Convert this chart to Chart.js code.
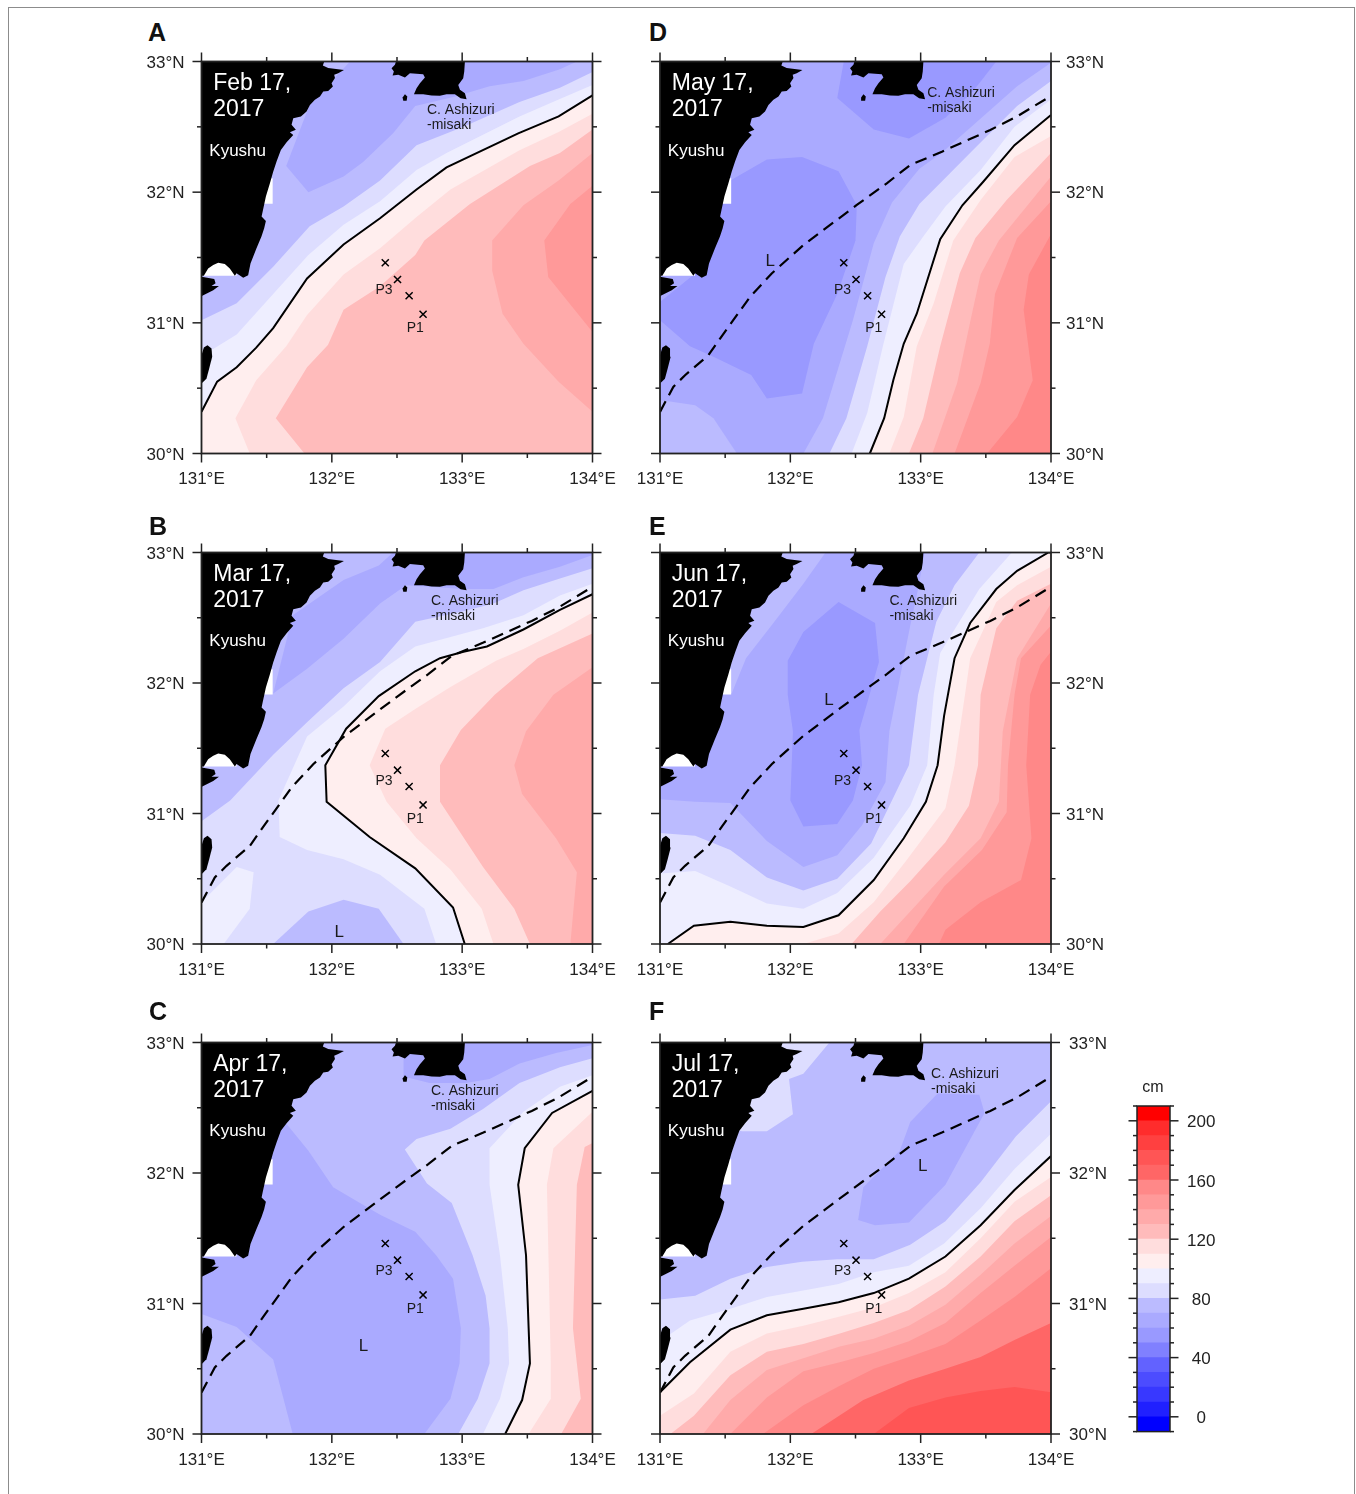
<!DOCTYPE html>
<html>
<head>
<meta charset="utf-8">
<title>Sea level maps 2017</title>
<script src="https://cdn.jsdelivr.net/npm/chart.js@4"></script>
<style>
html, body { margin: 0; padding: 0; background: #fff; }
body { position: relative; width: 1356px; height: 1494px; overflow: hidden; font-family: "Liberation Sans", Arial, sans-serif; }
canvas { position: absolute; }
#border { position: absolute; left: 8px; top: 7px; width: 1345px; height: 1520px; border: 1px solid #8c8c8c; }
.letter { position: absolute; font: bold 25px/24px "Liberation Sans", Arial, sans-serif; color: #111; }
</style>
</head>
<body>
<div id="border"></div>
<script>
// tick values, degrees
var lonTicks = [131, 132, 133, 134]
var lonMinor = [131.5, 132.5, 133.5]
var latTicks = [30, 31, 32, 33]
var latMinor = [30.5, 31.5, 32.5]

// colour bar, cm
var barLevels = [-10, 0, 10, 20, 30, 40, 50, 60, 70, 80, 90, 100, 110, 120, 130, 140, 150, 160, 170, 180, 190, 200]
var barLabels = [0, 40, 80, 120, 160, 200]

// stations lon/lat
var stations = [[132.41, 31.46], [132.504, 31.332], [132.593, 31.207], [132.70, 31.066]]

// mean Kuroshio path
var meanPath = [[131, 30.318], [131.102, 30.51], [131.192, 30.599], [131.371, 30.752], [131.461, 30.88], [131.691, 31.199], [131.857, 31.378], [132.1, 31.595], [132.51, 31.902], [132.74, 32.068], [132.92, 32.208], [133.163, 32.31], [133.534, 32.476], [133.739, 32.579], [134, 32.737]]

// land
var kyushu = [[131.942, 33], [131.931, 32.97], [131.972, 32.95], [132.093, 32.934], [132.049, 32.911], [132.018, 32.898], [132.024, 32.873], [131.998, 32.834], [132.008, 32.809], [131.972, 32.775], [131.934, 32.77], [131.909, 32.732], [131.87, 32.707], [131.832, 32.668], [131.806, 32.617], [131.763, 32.579], [131.704, 32.566], [131.691, 32.515], [131.724, 32.477], [131.678, 32.459], [131.704, 32.438], [131.653, 32.382], [131.609, 32.323], [131.576, 32.234], [131.55, 32.157], [131.525, 32.068], [131.494, 31.966], [131.469, 31.851], [131.461, 31.813], [131.494, 31.779], [131.481, 31.723], [131.46, 31.66], [131.422, 31.57], [131.376, 31.455], [131.358, 31.365], [131.32, 31.345], [131.269, 31.38], [131.256, 31.36], [131.217, 31.416], [131.179, 31.45], [131.128, 31.46], [131.09, 31.442], [131.051, 31.416], [131.018, 31.36], [131, 31.36], [131, 31.353], [131.098, 31.335], [131.108, 31.302], [131.077, 31.281], [131.134, 31.281], [131.09, 31.25], [131.006, 31.207], [131, 31.2], [131, 33]]
var osumi = [[131, 30.535], [131.038, 30.573], [131.059, 30.65], [131.082, 30.74], [131.077, 30.803], [131.046, 30.829], [131.018, 30.811], [131, 30.752]]
var shikoku = [[133.021, 33], [133.016, 32.923], [133.008, 32.872], [132.97, 32.821], [132.983, 32.783], [133.021, 32.757], [133.034, 32.711], [132.988, 32.719], [132.944, 32.75], [132.88, 32.75], [132.829, 32.737], [132.765, 32.74], [132.701, 32.75], [132.63, 32.75], [132.65, 32.795], [132.676, 32.834], [132.714, 32.878], [132.701, 32.903], [132.599, 32.911], [132.561, 32.878], [132.51, 32.898], [132.466, 32.893], [132.476, 32.923], [132.458, 32.949], [132.484, 32.975], [132.492, 33]]
var islet = [[132.561, 32.75], [132.579, 32.732], [132.574, 32.699], [132.548, 32.699], [132.543, 32.724]]
var noData = [
  [[131.46, 32.106], [131.546, 32.106], [131.546, 31.912], [131.46, 31.912]],
  [[131, 31.52], [131.269, 31.52], [131.269, 31.36], [131, 31.36]]
]

// bands: [level, contour], closed round the south east corner
var febBands = [
  [80, [[131, 31.02], [131.27, 31.15], [131.55, 31.43], [131.83, 31.74], [132.09, 31.89], [132.37, 32.09], [132.65, 32.36], [133.01, 32.5], [133.44, 32.69], [133.75, 32.8], [134, 32.92]]],
  [90, [[131, 30.79], [131.09, 30.8], [131.27, 30.91], [131.55, 31.22], [131.82, 31.52], [132.09, 31.75], [132.37, 31.93], [132.65, 32.17], [132.88, 32.3], [133.44, 32.58], [133.74, 32.71], [134, 32.82]]],
  [100, [[131, 30.32], [131.12, 30.55], [131.27, 30.66], [131.42, 30.81], [131.55, 30.96], [131.81, 31.34], [132.09, 31.6], [132.37, 31.8], [132.65, 32.02], [132.88, 32.19], [133.43, 32.45], [133.74, 32.58], [134, 32.74]]],
  [110, [[131.37, 30], [131.26, 30.27], [131.42, 30.56], [131.65, 30.82], [131.81, 31.06], [132.09, 31.37], [132.37, 31.57], [132.65, 31.81], [132.91, 32.02], [133.44, 32.32], [133.74, 32.46], [134, 32.6]]],
  [120, [[131.79, 30], [131.57, 30.27], [131.81, 30.66], [131.97, 30.83], [132.09, 31.1], [132.37, 31.28], [132.64, 31.52], [132.71, 31.63], [133.06, 31.91], [133.52, 32.2], [133.75, 32.3], [134, 32.48]]],
  [130, [[134, 30.32], [133.74, 30.55], [133.47, 30.84], [133.31, 31.07], [133.23, 31.4], [133.23, 31.63], [133.47, 31.9], [133.74, 32.09], [134, 32.3]]],
  [140, [[134, 30.93], [133.66, 31.35], [133.63, 31.63], [133.83, 31.91], [134, 32.05]]]
]
var febPatches = [
  [60, [[132.14, 33], [131.83, 32.67], [131.65, 32.2], [131.82, 32], [132.09, 32.12], [132.24, 32.23], [132.47, 32.45], [132.64, 32.66], [132.94, 32.73], [133.21, 32.81], [133.47, 32.85], [133.75, 32.94], [133.88, 33]]]
]

var marBands = [
  [80, [[131, 30.94], [131.22, 31.1], [131.55, 31.45], [131.81, 31.7], [132.09, 31.96], [132.37, 32.16], [132.64, 32.47], [133.01, 32.55], [133.24, 32.61], [133.47, 32.71], [133.75, 32.8], [134, 32.88]]],
  [90, [[132.8, 30], [132.71, 30.27], [132.37, 30.53], [132.09, 30.65], [131.81, 30.72], [131.6, 30.82], [131.59, 31.1], [131.81, 31.59], [132.09, 31.82], [132.37, 32.09], [132.64, 32.28], [133.16, 32.42], [133.47, 32.52], [133.75, 32.67], [134, 32.76]]],
  [100, [[133.02, 30], [132.93, 30.28], [132.64, 30.58], [132.29, 30.82], [131.96, 31.09], [131.95, 31.37], [132.11, 31.65], [132.36, 31.9], [132.64, 32.09], [132.83, 32.19], [133.01, 32.24], [133.19, 32.28], [133.47, 32.41], [133.75, 32.56], [134, 32.68]]],
  [110, [[133.24, 30], [133.15, 30.27], [132.91, 30.57], [132.65, 30.81], [132.42, 31.09], [132.29, 31.37], [132.41, 31.65], [132.64, 31.8], [132.91, 31.97], [133.26, 32.17], [133.47, 32.26], [133.75, 32.4], [134, 32.54]]],
  [120, [[133.52, 30], [133.4, 30.27], [133.16, 30.59], [132.83, 31.09], [132.83, 31.37], [132.99, 31.64], [133.25, 31.91], [133.58, 32.19], [134, 32.38]]],
  [130, [[133.83, 30], [133.88, 30.55], [133.72, 30.81], [133.46, 31.15], [133.4, 31.37], [133.49, 31.63], [133.7, 31.91], [134, 32.12]]]
]
var marPatches = [
  [60, [[131.55, 31.92], [131.81, 32.11], [132.09, 32.34], [132.37, 32.61], [132.57, 32.75], [133.01, 32.72], [133.24, 32.72], [133.47, 32.81], [133.75, 32.89], [134, 32.98], [134, 33], [132.47, 33], [132.36, 32.9], [132.09, 32.79], [131.7, 32.52]]],
  [90, [[131, 30.32], [131.27, 30.59], [131.4, 30.55], [131.37, 30.27], [131.17, 30], [131, 30]]],
  [70, [[131.55, 30], [131.82, 30.25], [132.09, 30.34], [132.36, 30.27], [132.55, 30]]]
]

var aprBands = [
  [80, [[132.97, 30], [133.12, 30.27], [133.21, 30.54], [133.21, 30.81], [133.18, 31.06], [133.08, 31.37], [132.92, 31.77], [132.73, 31.92], [132.56, 32.18], [132.65, 32.26], [132.91, 32.34], [133.16, 32.49], [133.44, 32.69], [133.75, 32.81], [134, 32.88]]],
  [90, [[133.16, 30], [133.29, 30.27], [133.36, 30.54], [133.35, 30.81], [133.29, 31.37], [133.21, 31.91], [133.21, 32.19], [133.47, 32.47], [133.75, 32.66], [134, 32.75]]],
  [100, [[133.33, 30], [133.46, 30.26], [133.52, 30.54], [133.51, 30.81], [133.49, 31.37], [133.43, 31.91], [133.48, 32.19], [133.69, 32.46], [134, 32.63]]],
  [110, [[133.51, 30], [133.68, 30.27], [133.68, 30.54], [133.65, 31.91], [133.7, 32.19], [134, 32.47]]],
  [120, [[133.76, 30], [133.91, 30.27], [133.85, 30.81], [133.88, 31.91], [133.94, 32.2], [134, 32.23]]]
]
var aprPatches = [
  [60, [[131.65, 32.38], [131.82, 32.17], [132.01, 31.89], [132.37, 31.68], [132.64, 31.55], [132.8, 31.37], [132.93, 31.19], [132.99, 30.81], [132.98, 30.54], [132.91, 30.27], [132.71, 30], [131.7, 30], [131.55, 30.57], [131.27, 30.82], [131, 30.92], [131, 31.37], [131.47, 32.34]]],
  [60, [[132.55, 33], [132.55, 32.74], [132.75, 32.69], [133.03, 32.69], [133.21, 32.72], [133.44, 32.84], [133.72, 32.92], [134, 32.98], [134, 33]]]
]

var mayBands = [
  [70, [[132.1, 30], [132.25, 30.27], [132.48, 31.02], [132.64, 31.61], [132.78, 31.92], [132.99, 32.18], [133.16, 32.3], [133.4, 32.51], [133.74, 32.81], [134, 32.99]]],
  [80, [[132.3, 30], [132.43, 30.27], [132.59, 30.82], [132.73, 31.35], [132.84, 31.66], [132.99, 31.91], [133.17, 32.09], [133.4, 32.32], [133.74, 32.66], [134, 32.85]]],
  [90, [[132.47, 30], [132.59, 30.31], [132.71, 30.82], [132.87, 31.45], [133.02, 31.66], [133.19, 31.89], [133.46, 32.17], [133.72, 32.5], [134, 32.71]]],
  [100, [[132.61, 30], [132.72, 30.27], [132.79, 30.56], [132.87, 30.84], [132.97, 31.07], [133.15, 31.64], [133.32, 31.9], [133.48, 32.08], [133.72, 32.36], [134, 32.59]]],
  [110, [[132.76, 30], [132.87, 30.28], [132.97, 30.82], [133.1, 31.15], [133.25, 31.63], [133.46, 31.94], [133.72, 32.27], [134, 32.43]]],
  [120, [[132.91, 30], [133.02, 30.27], [133.15, 30.82], [133.3, 31.38], [133.42, 31.65], [133.66, 31.94], [134, 32.3]]],
  [130, [[133.09, 30], [133.28, 30.54], [133.4, 31.1], [133.46, 31.37], [133.6, 31.63], [134, 32.12]]],
  [140, [[133.26, 30], [133.46, 30.54], [133.53, 30.84], [133.57, 31.22], [133.74, 31.65], [134, 31.93]]],
  [150, [[133.51, 30], [133.74, 30.28], [133.86, 30.56], [133.79, 31.1], [133.83, 31.37], [134, 31.68]]]
]
var mayPatches = [
  [50, [[132.41, 33], [132.36, 32.72], [132.64, 32.48], [132.91, 32.41], [133.19, 32.57], [133.4, 32.77], [133.58, 33]]],
  [50, [[131, 31.16], [131.26, 31.37], [131.54, 32.09], [131.82, 32.25], [132.09, 32.27], [132.37, 32.16], [132.51, 31.9], [132.5, 31.63], [132.36, 31.22], [132.18, 30.84], [132.09, 30.46], [131.82, 30.42], [131.7, 30.6], [131.41, 30.74], [131.23, 30.82], [131, 31.02]]],
  [70, [[131, 30.41], [131.27, 30.37], [131.41, 30.27], [131.59, 30], [131, 30]]]
]

var junBands = [
  [70, [[131, 31.11], [131.27, 31.09], [131.54, 31.08], [131.82, 30.79], [132.1, 30.59], [132.36, 30.68], [132.55, 30.91], [132.73, 31.24], [132.76, 31.63], [132.92, 32.44], [132.98, 32.72], [133.03, 33], [134, 33]]],
  [80, [[131, 30.85], [131.27, 30.83], [131.54, 30.72], [131.82, 30.51], [132.1, 30.41], [132.36, 30.5], [132.62, 30.77], [132.91, 31.37], [132.98, 31.91], [133.12, 32.47], [133.26, 32.75], [133.45, 33], [134, 33]]],
  [90, [[131, 30.54], [131.27, 30.56], [131.54, 30.44], [131.82, 30.31], [132.1, 30.27], [132.36, 30.39], [132.64, 30.66], [132.92, 31.06], [133.05, 31.37], [133.1, 31.91], [133.15, 32.23], [133.45, 32.72], [133.7, 33], [134, 33]]],
  [100, [[131.06, 30], [131.26, 30.14], [131.54, 30.17], [131.82, 30.14], [132.1, 30.13], [132.37, 30.22], [132.64, 30.49], [132.87, 30.81], [133.04, 31.09], [133.13, 31.37], [133.18, 31.75], [133.26, 32.19], [133.38, 32.46], [133.58, 32.72], [133.74, 32.86], [133.98, 33], [134, 33]]],
  [110, [[132.1, 30], [132.37, 30.08], [132.64, 30.32], [132.89, 30.64], [133.19, 31.04], [133.26, 31.37], [133.34, 31.91], [133.38, 32.19], [133.58, 32.62], [133.74, 32.75], [134, 32.89]]],
  [120, [[132.47, 30], [132.69, 30.25], [132.92, 30.48], [133.19, 30.78], [133.37, 31.06], [133.44, 31.37], [133.46, 31.91], [133.58, 32.42], [133.74, 32.63], [134, 32.76]]],
  [130, [[132.69, 30], [132.92, 30.25], [133.18, 30.53], [133.46, 30.81], [133.6, 31.09], [133.63, 31.63], [133.74, 32.19], [134, 32.61]]],
  [140, [[132.87, 30], [133.18, 30.44], [133.47, 30.72], [133.66, 31.01], [133.67, 31.37], [133.72, 31.91], [133.77, 32.19], [134, 32.44]]],
  [150, [[133.14, 30], [133.19, 30.11], [133.46, 30.32], [133.77, 30.49], [133.85, 30.81], [133.81, 31.37], [133.84, 31.91], [133.92, 32.14], [134, 32.24]]]
]
var junPatches = [
  [50, [[132.37, 32.62], [132.1, 32.39], [131.98, 32.17], [131.98, 31.91], [132.02, 31.63], [132, 31.1], [132.1, 30.9], [132.36, 30.92], [132.48, 31.1], [132.55, 31.37], [132.53, 31.64], [132.68, 32.16], [132.65, 32.46]]],
  [70, [[131.92, 33], [132.27, 33], [132.1, 32.76], [131.87, 32.46], [131.66, 32.19], [131.55, 31.92], [131.36, 32.09]]]
]

var julBands = [
  [80, [[131, 31.03], [131.27, 31.06], [131.54, 31.19], [131.82, 31.28], [132.09, 31.32], [132.36, 31.34], [132.64, 31.34], [132.92, 31.45], [133.19, 31.63], [133.46, 31.93], [133.73, 32.28], [134, 32.55]]],
  [90, [[131, 30.71], [131.23, 30.87], [131.54, 30.96], [131.82, 31.05], [132.1, 31.1], [132.37, 31.15], [132.64, 31.24], [132.91, 31.29], [133.18, 31.46], [133.46, 31.73], [133.72, 32.03], [134, 32.3]]],
  [100, [[131, 30.32], [131.23, 30.55], [131.54, 30.8], [131.82, 30.91], [132.1, 30.96], [132.37, 31.01], [132.64, 31.08], [132.91, 31.19], [133.19, 31.36], [133.46, 31.6], [133.72, 31.87], [134, 32.13]]],
  [110, [[131, 30.14], [131.26, 30.31], [131.54, 30.63], [131.82, 30.77], [132.1, 30.83], [132.38, 30.9], [132.64, 30.97], [132.91, 31.08], [133.19, 31.24], [133.46, 31.5], [133.72, 31.78], [134, 31.97]]],
  [120, [[131.08, 30], [131.26, 30.14], [131.54, 30.45], [131.82, 30.63], [132.1, 30.69], [132.38, 30.77], [132.64, 30.85], [132.91, 30.95], [133.19, 31.13], [133.46, 31.36], [133.72, 31.63], [134, 31.83]]],
  [130, [[131.33, 30], [131.54, 30.26], [131.82, 30.49], [132.1, 30.58], [132.38, 30.67], [132.64, 30.73], [132.91, 30.83], [133.19, 30.99], [133.46, 31.22], [133.72, 31.46], [134, 31.67]]],
  [140, [[131.54, 30], [131.82, 30.28], [132.1, 30.48], [132.38, 30.55], [132.64, 30.62], [132.91, 30.71], [133.19, 30.85], [133.46, 31.08], [133.72, 31.29], [134, 31.51]]],
  [150, [[131.79, 30], [132.1, 30.22], [132.38, 30.37], [132.64, 30.5], [132.91, 30.59], [133.19, 30.69], [133.46, 30.87], [133.72, 31.05], [134, 31.27]]],
  [160, [[132.16, 30], [132.56, 30.26], [132.91, 30.41], [133.19, 30.5], [133.46, 30.59], [133.72, 30.72], [134, 30.85]]],
  [170, [[132.64, 30], [132.91, 30.2], [133.19, 30.28], [133.46, 30.33], [133.72, 30.36], [134, 30.32]]]
]
var julPatches = [
  [80, [[131.93, 33], [132.3, 33], [132.1, 32.76], [131.99, 32.72], [132.02, 32.45], [131.82, 32.32], [131.63, 32.32], [131.49, 32.34]]],
  [60, [[132.52, 31.64], [132.56, 31.89], [132.84, 32.17], [132.92, 32.39], [133.13, 32.61], [133.45, 32.6], [133.49, 32.46], [133.19, 31.91], [132.91, 31.62], [132.65, 31.6]]]
]

var levelColors = {
  '-10': '#0000ff', 0: '#2020ff', 10: '#3838ff', 20: '#4c4cff', 30: '#6262ff', 40: '#8080ff', 50: '#9999ff', 60: '#aaaaff', 70: '#bbbbff', 80: '#ddddff', 90: '#eeeeff',
  100: '#ffeeee', 110: '#ffdddd', 120: '#ffbbbb', 130: '#ffaaaa', 140: '#ff9999', 150: '#ff8888', 160: '#ff6666', 170: '#ff5555', 180: '#ff4040', 190: '#ff2c2c', 200: '#ff0000'
}

var panels = [
  { letter: 'A', letterX: 148, letterBase: 41, date: ['Feb 17,', '2017'], base: 70, bands: febBands, patches: febPatches, path: false, cape: [132.73, 32.60], low: null, side: 'left', pad: 17, left: 201.5, top: 61.5, h: 392 },
  { letter: 'B', letterX: 149, letterBase: 535, date: ['Mar 17,', '2017'], base: 70, bands: marBands, patches: marPatches, path: true, cape: [132.76, 32.60], low: [132.02, 30.055], side: 'left', pad: 17, left: 201.5, top: 552.5, h: 391.5 },
  { letter: 'C', letterX: 149, letterBase: 1020, date: ['Apr 17,', '2017'], base: 70, bands: aprBands, patches: aprPatches, path: true, cape: [132.76, 32.60], low: [132.207, 30.637], side: 'left', pad: 17, left: 201.5, top: 1042.5, h: 391.5 },
  { letter: 'D', letterX: 649, letterBase: 41, date: ['May 17,', '2017'], base: 60, bands: mayBands, patches: mayPatches, path: true, cape: [133.05, 32.73], low: [131.81, 31.434], side: 'right', pad: 15, left: 660, top: 61.5, h: 392 },
  { letter: 'E', letterX: 649, letterBase: 535, date: ['Jun 17,', '2017'], base: 60, bands: junBands, patches: junPatches, path: true, cape: [132.76, 32.60], low: [132.26, 31.835], side: 'right', pad: 15, left: 660, top: 552.5, h: 391.5 },
  { letter: 'F', letterX: 649, letterBase: 1020, date: ['Jul 17,', '2017'], base: 70, bands: julBands, patches: julPatches, path: true, cape: [133.08, 32.73], low: [132.98, 32.017], side: 'right', pad: 18, left: 660, top: 1042.5, h: 391.5 }
]

var sans = '"Liberation Sans", Arial, sans-serif'
var frameColor = '#222'

function toXY(pts) {
  return pts.map(function (p) { return { x: p[0], y: p[1] } })
}
// close a contour round the south east corner of the map
function closeSE(pts) {
  var out = pts.slice()
  out.push([134, 30])
  if (pts[0][0] == 131 && pts[0][1] > 30) out.push([131, 30])
  return out
}
function polygon(pts, color) {
  return { data: toXY(pts), showLine: true, fill: 'shape', backgroundColor: color, borderWidth: 0, pointRadius: 0, tension: 0 }
}
function stroke(pts, width, dash) {
  return { data: toXY(pts), showLine: true, fill: false, borderColor: '#000', borderWidth: width, borderDash: dash || [], pointRadius: 0, tension: 0 }
}

function buildDatasets(panel) {
  var list = [polygon([[131, 30], [131, 33], [134, 33], [134, 30]], levelColors[panel.base])]
  panel.bands.forEach(function (b) { list.push(polygon(closeSE(b[1]), levelColors[b[0]])) })
  panel.patches.forEach(function (b) { list.push(polygon(b[1], levelColors[b[0]])) })
  noData.forEach(function (r) { list.push(polygon(r, '#ffffff')) })
  list.push(polygon(kyushu, '#000'), polygon(osumi, '#000'), polygon(shikoku, '#000'), polygon(islet, '#000'))
  panel.bands.forEach(function (b) { if (b[0] == 100) list.push(stroke(b[1], 2)) })
  if (panel.path) list.push(stroke(meanPath, 2.2, [12, 7]))
  list.push({ data: toXY(stations), showLine: false, pointStyle: 'crossRot', pointRadius: 5, pointBorderWidth: 1.5, pointBorderColor: '#000', pointBackgroundColor: 'transparent' })
  // later datasets paint on top
  list.forEach(function (d, i) { d.order = -i })
  return list
}

function drawTick(ctx, x1, y1, x2, y2) {
  ctx.beginPath()
  ctx.moveTo(x1, y1)
  ctx.lineTo(x2, y2)
  ctx.stroke()
}

var mapFrame = {
  id: 'mapFrame',
  afterDraw: function (chart) {
    var ctx = chart.ctx, a = chart.chartArea, sx = chart.scales.x, sy = chart.scales.y
    ctx.save()
    ctx.strokeStyle = frameColor
    ctx.lineWidth = 1.8
    ctx.strokeRect(a.left, a.top, a.right - a.left, a.bottom - a.top)
    ctx.lineWidth = 1.5
    function xTick(v, len) {
      var x = sx.getPixelForValue(v)
      drawTick(ctx, x, a.top - len, x, a.top)
      drawTick(ctx, x, a.bottom, x, a.bottom + len)
    }
    function yTick(v, len) {
      var y = sy.getPixelForValue(v)
      drawTick(ctx, a.left - len, y, a.left, y)
      drawTick(ctx, a.right, y, a.right + len, y)
    }
    lonTicks.forEach(function (v) { xTick(v, 9) })
    lonMinor.forEach(function (v) { xTick(v, 4.5) })
    latTicks.forEach(function (v) { yTick(v, 9) })
    latMinor.forEach(function (v) { yTick(v, 4.5) })
    ctx.restore()
  }
}

var mapText = {
  id: 'mapText',
  afterDatasetsDraw: function (chart, args, opts) {
    var ctx = chart.ctx, sx = chart.scales.x, sy = chart.scales.y, panel = opts.panel
    function put(text, lon, lat, font, color) {
      ctx.font = font
      ctx.fillStyle = color
      ctx.fillText(text, sx.getPixelForValue(lon), sy.getPixelForValue(lat))
    }
    ctx.save()
    ctx.textAlign = 'left'
    ctx.textBaseline = 'alphabetic'
    put(panel.date[0], 131.09, 32.783, '23px ' + sans, '#fff')
    put(panel.date[1], 131.09, 32.583, '23px ' + sans, '#fff')
    put('Kyushu', 131.06, 32.28, '17px ' + sans, '#fff')
    put('C. Ashizuri', panel.cape[0], panel.cape[1], '14px ' + sans, '#1a1a1a')
    put('-misaki', panel.cape[0], panel.cape[1] - 0.116, '14px ' + sans, '#1a1a1a')
    put('P3', 132.335, 31.22, '14px ' + sans, '#1a1a1a')
    put('P1', 132.575, 30.93, '14px ' + sans, '#1a1a1a')
    if (panel.low) put('L', panel.low[0], panel.low[1], '17px ' + sans, '#1a1a1a')
    ctx.restore()
  }
}

// scales keep a real size, labels are clipped to their box
function noScalePadding(s) {
  s.paddingTop = s.paddingBottom = s.paddingLeft = s.paddingRight = 0
}

var plotW = 391, marginX = 62, marginTop = 14, marginBottom = 44

panels.forEach(function (panel) {
  var cw = plotW + 2 * marginX + 1, ch = Math.ceil(panel.h) + marginTop + marginBottom
  var cl = Math.floor(panel.left) - marginX, ct = Math.floor(panel.top) - marginTop
  var canvas = document.createElement('canvas')
  canvas.width = cw
  canvas.height = ch
  canvas.style.left = cl + 'px'
  canvas.style.top = ct + 'px'
  canvas.style.width = cw + 'px'
  canvas.style.height = ch + 'px'
  document.body.appendChild(canvas)

  var letter = document.createElement('div')
  letter.className = 'letter'
  letter.textContent = panel.letter
  letter.style.left = panel.letterX + 'px'
  letter.style.top = (panel.letterBase - 21) + 'px'
  document.body.appendChild(letter)

  var padL = panel.left - cl, padT = panel.top - ct, padR = cw - padL - plotW, padB = ch - padT - panel.h
  var axisW = 58, axisH = 38
  new Chart(canvas.getContext('2d'), {
    type: 'scatter',
    data: { datasets: buildDatasets(panel) },
    plugins: [mapFrame, mapText],
    options: {
      responsive: false,
      animation: false,
      layout: {
        autoPadding: false,
        padding: {
          left: panel.side == 'left' ? padL - axisW : padL,
          right: panel.side == 'right' ? padR - axisW : padR,
          top: padT,
          bottom: padB - axisH
        }
      },
      plugins: { legend: { display: false }, tooltip: { enabled: false }, mapText: { panel: panel } },
      scales: {
        x: {
          type: 'linear', min: 131, max: 134,
          afterFit: function (s) { s.height = axisH; noScalePadding(s) },
          afterBuildTicks: function (s) { s.ticks = lonTicks.map(function (v) { return { value: v } }) },
          grid: { display: false, drawTicks: false }, border: { display: false },
          ticks: { padding: 16, maxRotation: 0, autoSkip: false, color: '#222', font: { family: sans, size: 17 }, callback: function (v) { return v + '°E' } }
        },
        y: {
          type: 'linear', min: 30, max: 33, position: panel.side,
          afterFit: function (s) { s.width = axisW; noScalePadding(s) },
          afterBuildTicks: function (s) { s.ticks = latTicks.map(function (v) { return { value: v } }) },
          grid: { display: false, drawTicks: false }, border: { display: false },
          ticks: { padding: panel.pad, autoSkip: false, labelOffset: 1.5, color: '#222', font: { family: sans, size: 17 }, callback: function (v) { return v + '°N' } }
        }
      }
    }
  })
})

// colour bar
var barCanvas = document.createElement('canvas')
barCanvas.width = 130
barCanvas.height = 380
barCanvas.style.left = '1110px'
barCanvas.style.top = '1072px'
barCanvas.style.width = '130px'
barCanvas.style.height = '380px'
document.body.appendChild(barCanvas)

var barFrame = {
  id: 'barFrame',
  afterDraw: function (chart) {
    var ctx = chart.ctx, a = chart.chartArea, sy = chart.scales.y
    ctx.save()
    ctx.strokeStyle = frameColor
    ctx.lineWidth = 1.5
    ctx.strokeRect(a.left, a.top, a.right - a.left, a.bottom - a.top)
    barLevels.concat([210]).forEach(function (v) {
      var y = sy.getPixelForValue(v)
      var len = barLabels.indexOf(v) >= 0 ? 8.5 : 4
      drawTick(ctx, a.left - len, y, a.left, y)
      drawTick(ctx, a.right, y, a.right + len, y)
    })
    ctx.font = '16px ' + sans
    ctx.fillStyle = '#222'
    ctx.textAlign = 'center'
    ctx.textBaseline = 'alphabetic'
    ctx.fillText('cm', (a.left + a.right) / 2 - 0.5, 1092 - 1072)
    ctx.restore()
  }
}

new Chart(barCanvas.getContext('2d'), {
  type: 'bar',
  data: {
    labels: ['cm'],
    datasets: barLevels.map(function (lo) {
      return { data: [[lo, lo + 10]], backgroundColor: levelColors[lo], barPercentage: 1, categoryPercentage: 1, borderWidth: 0 }
    })
  },
  plugins: [barFrame],
  options: {
    responsive: false,
    animation: false,
    layout: { autoPadding: false, padding: { left: 27, right: 10, top: 34, bottom: 20.4 } },
    plugins: { legend: { display: false }, tooltip: { enabled: false } },
    scales: {
      x: { stacked: true, display: false, grid: { display: false } },
      y: {
        position: 'right', min: -10, max: 210,
        afterFit: function (s) { s.width = 60; noScalePadding(s) },
        afterBuildTicks: function (s) { s.ticks = barLabels.map(function (v) { return { value: v } }) },
        grid: { display: false, drawTicks: false }, border: { display: false },
        ticks: { padding: 17, autoSkip: false, labelOffset: 2, crossAlign: 'center', color: '#222', font: { family: sans, size: 17 } }
      }
    }
  }
})
</script>
</body>
</html>
